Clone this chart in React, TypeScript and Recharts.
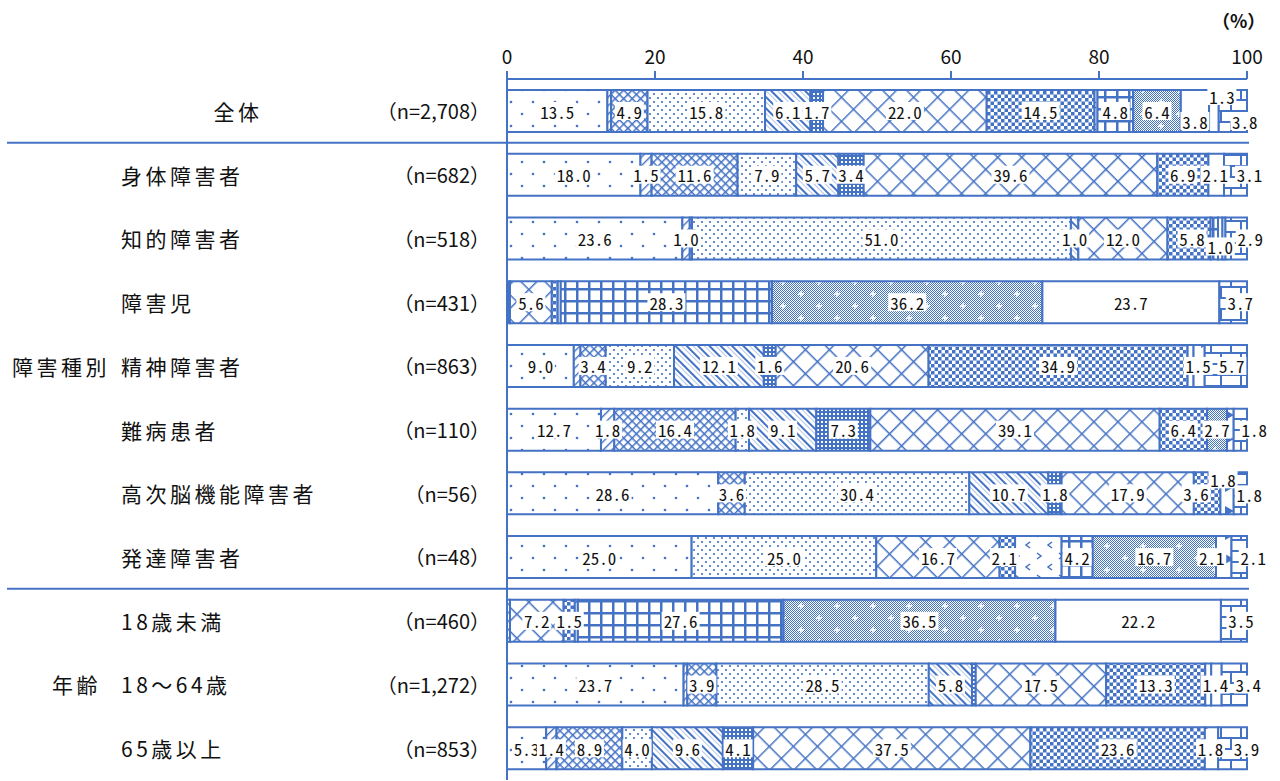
import React from "react";
import { BarChart, Bar, XAxis, YAxis, LabelList } from "recharts";

const BLUE = "#4472C4";
const CJK = "'Noto Sans CJK JP', 'Noto Sans', sans-serif";
const MONO = "'Noto Sans Mono CJK JP', 'DejaVu Sans Mono', monospace";

const rowNames = [
  "全体", "身体障害者", "知的障害者", "障害児", "精神障害者", "難病患者",
  "高次脳機能障害者", "発達障害者", "18歳未満", "18〜64歳", "65歳以上",
];
const rowCounts = ["2,708", "682", "518", "431", "863", "110", "56", "48", "460", "1,272", "853"];
const xTicks = [0, 0.2, 0.4, 0.6, 0.8, 1];

// one array per answer (%), rows in the order above
const dot = [13.5, 18.0, 23.6, 0, 9.0, 12.7, 28.6, 25.0, 0, 23.7, 5.3];
const slash = [0.5, 1.5, 1.0, 0, 0.9, 1.8, 0, 0, 0.4, 0.5, 1.4];
const cross = [4.9, 11.6, 0.3, 0, 3.4, 16.4, 3.6, 0, 0, 3.9, 8.9];
const dense = [15.8, 7.9, 51.0, 0, 9.2, 1.8, 30.4, 25.0, 0, 28.5, 4.0];
const stripe = [6.1, 5.7, 1.0, 0, 12.1, 9.1, 10.7, 0, 0, 5.8, 9.6];
const check = [1.7, 3.4, 0, 0.4, 1.6, 7.3, 1.8, 0, 0, 0.5, 4.1];
const lattice = [22.0, 39.6, 12.0, 5.6, 20.6, 39.1, 17.9, 16.7, 7.2, 17.5, 37.5];
const checker = [14.5, 6.9, 5.8, 0.8, 34.9, 6.4, 3.6, 2.1, 1.5, 13.3, 23.6];
const zig = [0.4, 0, 0, 0.4, 0, 0, 0, 6.3, 0.4, 0, 0];
const grid = [4.8, 0, 1.0, 28.3, 0, 0, 0, 4.2, 27.6, 0, 0];
const star = [6.4, 0, 0, 36.2, 0, 2.7, 0, 16.7, 36.5, 0, 0];
const blank = [3.8, 0, 0.6, 23.7, 0.8, 0, 0, 0, 22.2, 0.8, 0];
const solid = [1.3, 2.1, 0.4, 0, 1.5, 0.9, 1.8, 2.1, 0, 1.4, 1.8];
const brick = [3.8, 3.1, 2.9, 3.7, 5.7, 1.8, 1.8, 2.1, 3.5, 3.4, 3.9];

const series: [string, number[]][] = [
  ["dot", dot], ["slash", slash], ["cross", cross], ["dense", dense],
  ["stripe", stripe], ["check", check], ["lattice", lattice], ["checker", checker],
  ["zig", zig], ["grid", grid], ["star", star], ["blank", blank],
  ["solid", solid], ["brick", brick],
];

const data = rowNames.map((name, i) => {
  const row: Record<string, any> = { name };
  series.forEach(([k, vals]) => (row[k] = vals[i]));
  return row;
});

// hand-placed labels where the small end segments crowd each other
const labelShift: Record<string, { dx: number; dy: number }> = {
  "全体|blank": { dx: 0, dy: 10 },
  "全体|solid": { dx: 8, dy: -15 },
  "全体|brick": { dx: 12, dy: 10 },
  "障害児|brick": { dx: 7, dy: 0 },
  "精神障害者|brick": { dx: 6, dy: 0 },
  "18歳未満|brick": { dx: 7, dy: 0 },
  "高次脳機能障害者|checker": { dx: -11, dy: 0 },
  "高次脳機能障害者|solid": { dx: -4, dy: -14 },
  "高次脳機能障害者|brick": { dx: 9, dy: 1 },
  "知的障害者|grid": { dx: 6, dy: 8 },
  "知的障害者|checker": { dx: 3, dy: 0 },
  "発達障害者|solid": { dx: -12, dy: 0 },
  "発達障害者|checker": { dx: -3, dy: 0 },
};
const defaultShift: Record<string, { dx: number; dy: number }> = {
  solid: { dx: -1, dy: 0 },
  brick: { dx: 14, dy: 0 },
};

const TOP = 79;
const ROW_H = (781 - TOP - 1) / rowNames.length;

function Patterns() {
  return (
    <svg width={0} height={0} style={{ position: "absolute" }}>
      <defs>
        <pattern id="p-dot" width={22} height={24} patternUnits="userSpaceOnUse">
          <rect width={22} height={24} fill="#fff" />
          <circle cx={5} cy={6} r={1.3} fill={BLUE} />
          <circle cx={16} cy={18} r={1.3} fill={BLUE} />
        </pattern>
        <pattern id="p-slash" width={6} height={6} patternUnits="userSpaceOnUse" patternTransform="rotate(45)">
          <rect width={6} height={6} fill="#fff" />
          <rect width={1.4} height={6} fill={BLUE} />
        </pattern>
        <pattern id="p-cross" width={6} height={6} patternUnits="userSpaceOnUse" patternTransform="rotate(45)">
          <rect width={6} height={6} fill="#fff" />
          <rect width={1.5} height={6} fill={BLUE} />
          <rect width={6} height={1.5} fill={BLUE} />
        </pattern>
        <pattern id="p-dense" width={8} height={8} patternUnits="userSpaceOnUse">
          <rect width={8} height={8} fill="#fff" />
          <circle cx={2} cy={2} r={1.1} fill={BLUE} />
          <circle cx={6} cy={6} r={1.1} fill={BLUE} />
        </pattern>
        <pattern id="p-stripe" width={8} height={8} patternUnits="userSpaceOnUse" patternTransform="rotate(-45)">
          <rect width={8} height={8} fill="#fff" />
          <rect width={2} height={8} fill={BLUE} />
          <rect x={5} width={0.8} height={8} fill={BLUE} opacity={0.5} />
        </pattern>
        <pattern id="p-check" width={4} height={4} patternUnits="userSpaceOnUse">
          <rect width={4} height={4} fill={BLUE} />
          <rect x={1} y={1} width={2} height={2} fill="#fff" />
        </pattern>
        <pattern id="p-lattice" width={17} height={17} patternUnits="userSpaceOnUse" patternTransform="rotate(45)">
          <rect width={17} height={17} fill="#fff" />
          <rect width={1.5} height={17} fill={BLUE} />
          <rect width={17} height={1.5} fill={BLUE} />
        </pattern>
        <pattern id="p-checker" width={7} height={7} patternUnits="userSpaceOnUse">
          <rect width={7} height={7} fill="#fff" />
          <rect width={3.5} height={3.5} fill={BLUE} />
          <rect x={3.5} y={3.5} width={3.5} height={3.5} fill={BLUE} />
        </pattern>
        <pattern id="p-zig" width={22} height={22} patternUnits="userSpaceOnUse">
          <rect width={22} height={22} fill="#fff" />
          <path d="M3,3 L7,6 L3,9" stroke={BLUE} strokeWidth={1.5} fill="none" />
          <path d="M18,14 L14,17 L18,20" stroke={BLUE} strokeWidth={1.5} fill="none" />
        </pattern>
        <pattern id="p-grid" width={12} height={12} patternUnits="userSpaceOnUse">
          <rect width={12} height={12} fill="#fff" />
          <rect width={2.5} height={12} fill={BLUE} />
          <rect width={12} height={2.5} fill={BLUE} />
        </pattern>
        <pattern id="p-fine" width={2} height={2} patternUnits="userSpaceOnUse">
          <rect width={2} height={2} fill="#fff" />
          <rect width={1} height={1} fill={BLUE} />
          <rect x={1} y={1} width={1} height={1} fill={BLUE} />
        </pattern>
        <pattern id="p-star" width={36} height={24} patternUnits="userSpaceOnUse">
          <rect width={36} height={24} fill="url(#p-fine)" />
          <rect x={6} y={5.25} width={6} height={1.5} fill="#fff" />
          <rect x={8.25} y={3} width={1.5} height={6} fill="#fff" />
          <rect x={24} y={17.25} width={6} height={1.5} fill="#fff" />
          <rect x={26.25} y={15} width={1.5} height={6} fill="#fff" />
        </pattern>
        <pattern id="p-blank" width={4} height={4} patternUnits="userSpaceOnUse">
          <rect width={4} height={4} fill="#fff" />
        </pattern>
        <pattern id="p-solid" width={24} height={24} patternUnits="userSpaceOnUse">
          <rect width={24} height={24} fill="#fff" />
          <path d="M1,2 L10,7 L1,12 Z" fill={BLUE} />
        </pattern>
        <pattern id="p-brick" width={20} height={22} patternUnits="userSpaceOnUse">
          <rect width={20} height={22} fill="#fff" />
          <rect width={20} height={2} fill={BLUE} />
          <rect y={11} width={20} height={2} fill={BLUE} />
          <rect width={2} height={11} fill={BLUE} />
          <rect x={10} y={11} width={2} height={11} fill={BLUE} />
        </pattern>
      </defs>
    </svg>
  );
}

function CategoryTick(props: any) {
  const { y, payload } = props;
  const i = rowNames.indexOf(payload.value);
  const group = i === 4 ? "障害種別" : i === 9 ? "年齢" : null;
  return (
    <g>
      <text
        x={i === 0 ? 238 : 121}
        y={y}
        textAnchor={i === 0 ? "middle" : "start"}
        dominantBaseline="central"
        fontFamily={CJK}
        fontSize={21}
        letterSpacing={3.5}
        fill="#111"
      >
        {payload.value}
      </text>
      <text x={490} y={y} textAnchor="end" dominantBaseline="central" fontFamily={CJK} fontSize={20} fill="#111">
        （n={rowCounts[i]}）
      </text>
      {group && (
        <text x={i === 4 ? 12 : 52} y={y} dominantBaseline="central" fontFamily={CJK} fontSize={21} letterSpacing={3.5} fill="#111">
          {group}
        </text>
      )}
      {(i === 0 || i === 7) && (
        <line x1={7} x2={1249} y1={y + ROW_H / 2} y2={y + ROW_H / 2} stroke={BLUE} strokeWidth={2} />
      )}
    </g>
  );
}

const makeLabel = (key: string) => (props: any) => {
  const { x, y, width, height, value } = props;
  if (value == null || Number(value) < 1) return null;
  const midY = Number(y) + Number(height) / 2;
  const row = rowNames[Math.floor((midY - TOP) / ROW_H)] ?? "";
  const s = labelShift[`${row}|${key}`] ?? defaultShift[key] ?? { dx: 0, dy: 0 };
  const cx = Number(x) + Number(width) / 2 + s.dx;
  const cy = midY + s.dy;
  const txt = Number(value).toFixed(1);
  const w = txt.length * 9 + 2;
  return (
    <g>
      <rect x={cx - w / 2} y={cy - 9} width={w} height={18} fill="#fff" />
      <text x={cx} y={cy} textAnchor="middle" dominantBaseline="central" fontFamily={MONO} fontSize={17} fill="#111">
        {txt}
      </text>
    </g>
  );
};

export default function App() {
  return (
    <div style={{ position: "absolute", left: 0, top: 0, width: 1280, height: 781, background: "#fff" }}>
      <Patterns />
      <div
        style={{
          position: "absolute",
          left: 1212,
          top: 7,
          fontFamily: CJK,
          fontSize: 18,
          fontWeight: "bold",
          color: "#111",
        }}
      >
        （%）
      </div>
      <BarChart
        width={1280}
        height={781}
        data={data}
        layout="vertical"
        stackOffset="expand"
        barSize={42}
        margin={{ top: 0, right: 33, bottom: 1, left: 0 }}
      >
        <XAxis
          type="number"
          orientation="top"
          domain={[0, 1]}
          ticks={xTicks}
          tickFormatter={(v: number) => String(Math.round(v * 100))}
          height={TOP}
          axisLine={{ stroke: BLUE, strokeWidth: 2 }}
          tickLine={{ stroke: BLUE, strokeWidth: 2 }}
          tickSize={8}
          tickMargin={7}
          tick={{ fill: "#111", fontSize: 19, fontFamily: CJK }}
        />
        <YAxis
          type="category"
          dataKey="name"
          width={507}
          interval={0}
          axisLine={{ stroke: BLUE, strokeWidth: 2 }}
          tickLine={false}
          tick={<CategoryTick />}
        />
        {series.map(([key]) => (
          <Bar
            key={key}
            dataKey={key}
            stackId="a"
            fill={`url(#p-${key})`}
            stroke={BLUE}
            strokeWidth={2}
            isAnimationActive={false}
          >
            {key !== "zig" && <LabelList dataKey={key} content={makeLabel(key)} />}
          </Bar>
        ))}
      </BarChart>
    </div>
  );
}
